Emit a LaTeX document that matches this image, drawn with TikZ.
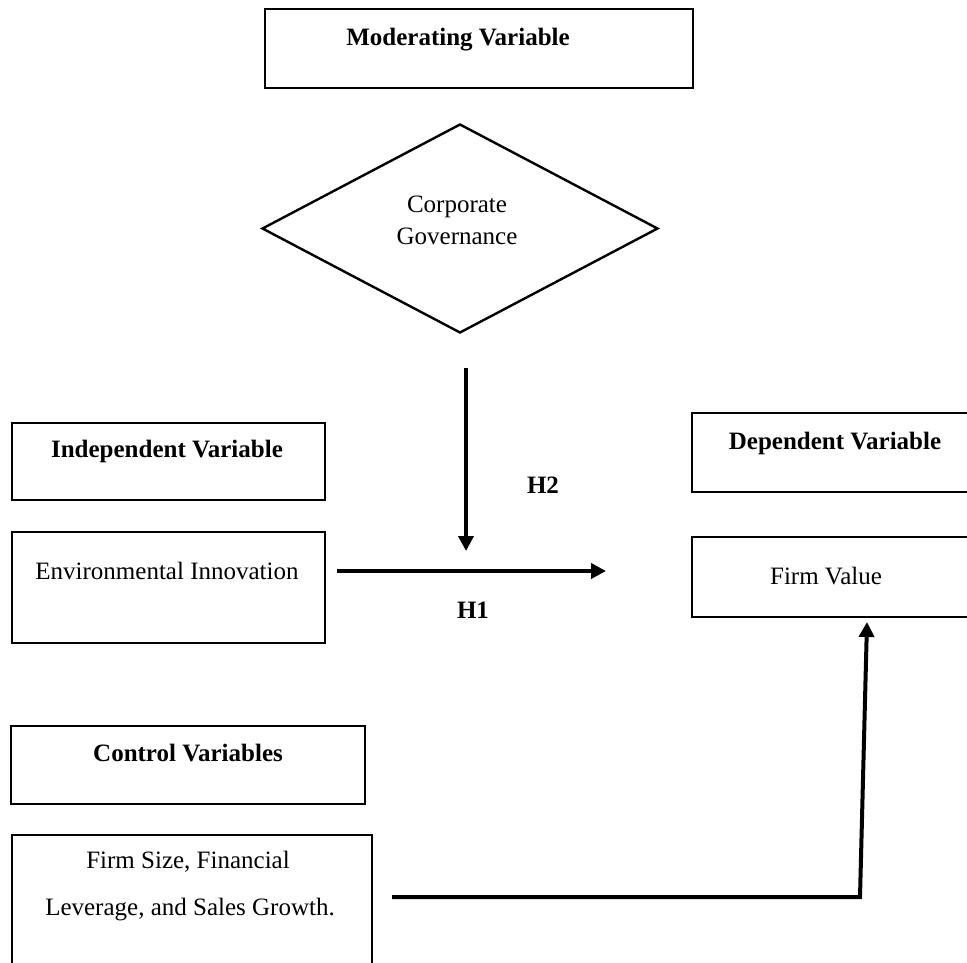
\documentclass[tikz,border=0pt]{standalone}
\usepackage{fontspec}
\setmainfont{Liberation Serif}
\usetikzlibrary{shapes.geometric,arrows.meta}
\begin{document}
\begin{tikzpicture}[x=1pt,y=-1pt,
  box/.style={draw,line width=2.6pt,rectangle,inner sep=0pt},
  lbl/.style={anchor=base,inner sep=0pt,font=\fontsize{25}{30}\selectfont},
  blbl/.style={lbl,font=\fontsize{25}{30}\selectfont\bfseries},
  arr/.style={line width=4pt,-{Triangle[length=15pt,width=15pt]}}]
\useasboundingbox (0,0) rectangle (967,962);
\clip (0,0) rectangle (967,962);
% boxes
\draw[box] (265,9) rectangle (693,88);
\node[diamond,draw,line width=2.4pt,minimum width=396pt,minimum height=209pt,inner sep=0pt] (cg) at (460,228.5) {};
\draw[box] (12,423) rectangle (325,500);
\draw[box] (12,532) rectangle (325,643);
\draw[box] (692,413) rectangle (968,492);
\draw[box] (692,537) rectangle (968,617);
\draw[box] (11,726) rectangle (365,804);
\draw[box] (12,835) rectangle (372,980);
% texts
\node[blbl] (modt) at (458,45) {Moderating Variable};
\node[lbl] (cgt1) at (457,212) {Corporate};
\node[lbl] (cgt2) at (457,244) {Governance};
\node[blbl] (indt) at (167,457) {Independent Variable};
\node[lbl] (envt) at (167,579) {Environmental Innovation};
\node[blbl] (dept) at (835,449) {Dependent Variable};
\node[lbl] (fvt) at (826,584) {Firm Value};
\node[blbl] (ctlt) at (188,761) {Control Variables};
\node[lbl] (fst1) at (188,868) {Firm Size, Financial};
\node[lbl] (fst2) at (190,915) {Leverage, and Sales Growth.};
\node[blbl] (h2) at (543,493) {H2};
\node[blbl] (h1) at (473,618) {H1};
% connectors
\coordinate (v1) at (466,368);
\coordinate (v2) at (466,551);
\coordinate (h1a) at (337,571);
\coordinate (h1b) at (606,571);
\coordinate (c1) at (392,897);
\coordinate (c2) at (860,897);
\coordinate (c3) at (867,622);
\draw[arr,line width=3.6pt] (v1) -- (v2);
\draw[arr] (h1a) -- (h1b);
\draw[arr,line join=miter] (c1) -- (c2) -- (c3);
\end{tikzpicture}
\end{document}
